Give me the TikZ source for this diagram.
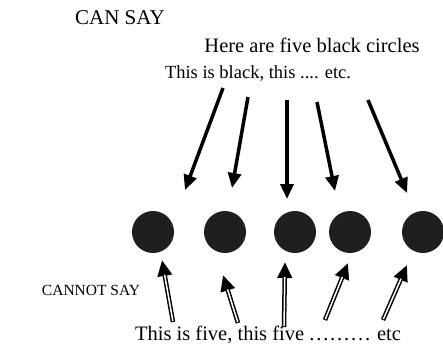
\documentclass[tikz,border=0pt]{standalone}
\usepackage{fontspec}
\setmainfont{Liberation Serif}
\usetikzlibrary{arrows.meta}

\tikzset{x=1pt, y=-1pt, every node/.append style={font=\fontsize{20.5}{24}\selectfont},
    dot/.style={circle, fill=black!88, minimum size=42pt, inner sep=0pt},
    canarrow/.style={line width=3.5pt, -{Triangle[length=15pt, width=13pt]}},
    cannotarrow/.style={line width=4.5pt, -{Triangle[length=16pt, width=14pt]}}}

\begin{document}
\begin{tikzpicture}
                \useasboundingbox (0,0) rectangle (443,357);
                \node[font=\fontsize{21}{24}\selectfont] (cansay) at (120,18) {CAN SAY};
                \node (here) at (312,45) {Here are five black circles};
                \node[font=\fontsize{18.5}{21}\selectfont] (black) at (258,73) {This is black, this .... etc.};
                \node[font=\fontsize{15.5}{18}\selectfont] (cannot) at (91,290) {CANNOT SAY};
                \node (five) at (268,335)
                    {This is five, this five {\addfontfeature{LetterSpace=9}.........} etc};
                % the circles
                \foreach \n/\x in {1/153, 2/225, 3/295, 4/350, 5/423}
                    \node[dot] (c\n) at (\x,232) {};
                % what can be said
                \foreach \n/\a/\b/\c/\d in {1/223/88/185/190, 2/248/97/232/188,
                        3/287/100/287/199, 4/317/102/335/191, 5/368/100/407/193} {
                    \coordinate (t\n) at (\a,\b);
                    \coordinate (h\n) at (\c,\d);
                    \draw[canarrow] (t\n) -- (h\n);
                }
                % what cannot be said
                \foreach \n/\a/\b/\c/\d in {1/173/322/162/260, 2/238/323/223/275,
                        3/284/327/285/262, 4/325/320/348/263, 5/383/320/407/265} {
                    \coordinate (b\n) at (\a,\b);
                    \coordinate (g\n) at (\c,\d);
                    \draw[cannotarrow] (b\n) -- (g\n);
                    \draw[white, line width=1.5pt, shorten <=1pt, shorten >=15pt] (b\n) -- (g\n);
                }
            \end{tikzpicture}
\end{document}
